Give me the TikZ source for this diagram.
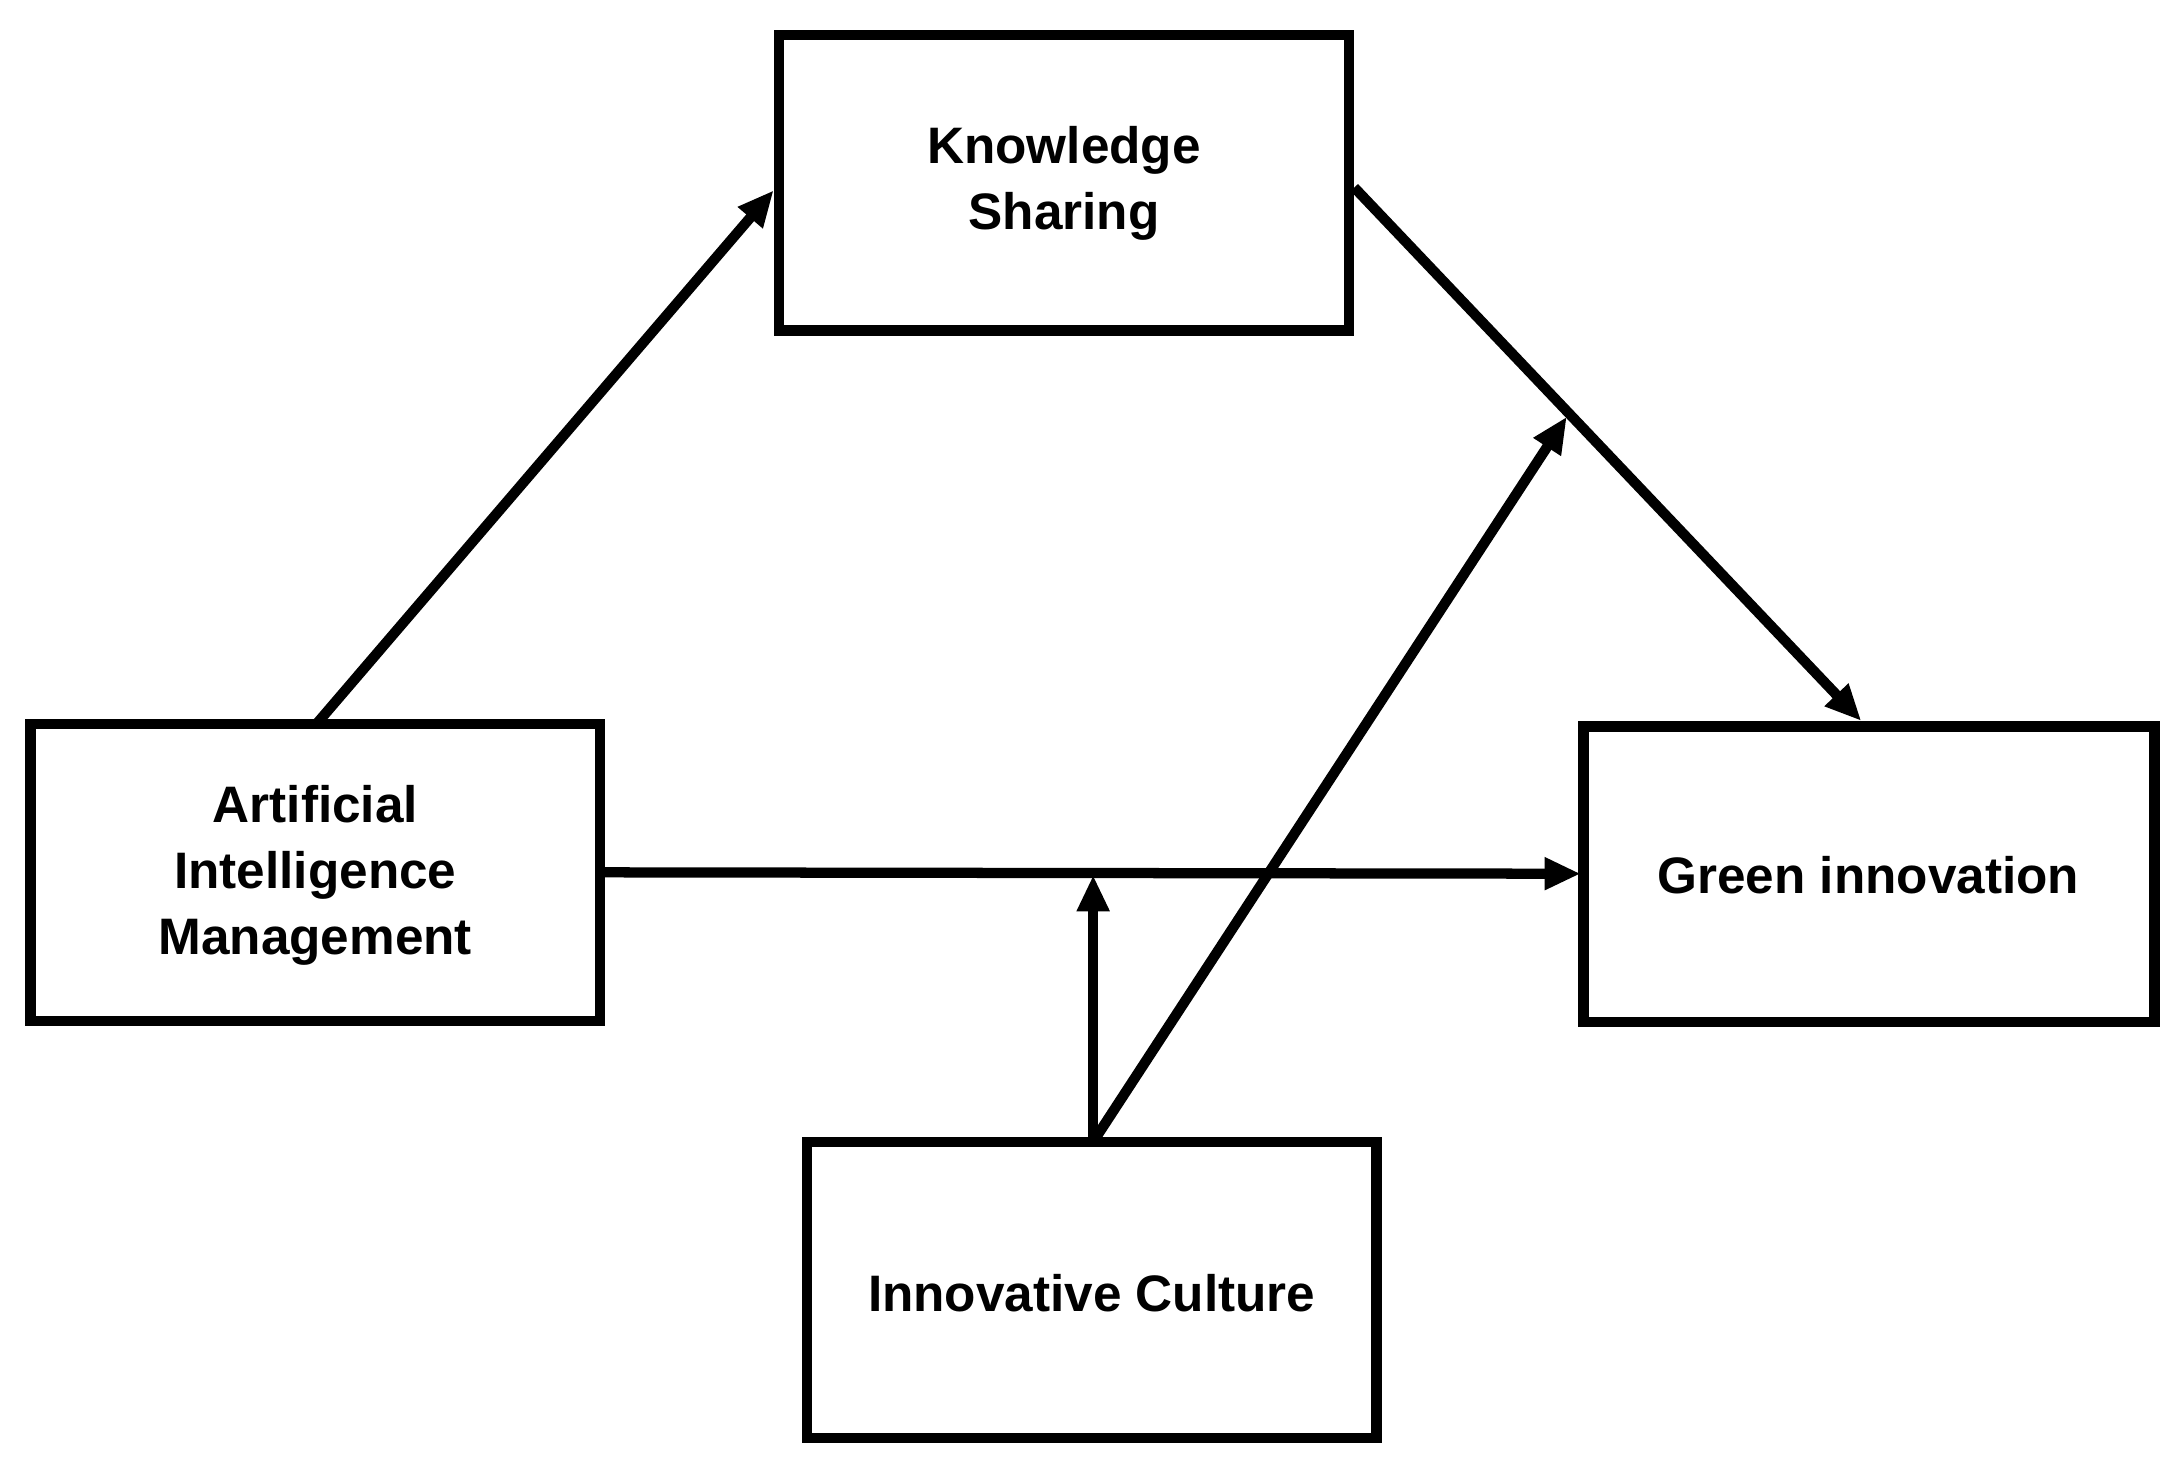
\documentclass[tikz,border=0pt]{standalone}
\usepackage{fontspec}
\setmainfont{Liberation Sans}
\usetikzlibrary{arrows.meta}
\begin{document}
\begin{tikzpicture}[x=0.01cm,y=-0.01cm,
  box/.style={draw,line width=2.1pt,inner sep=0pt},
  lbl/.style={font=\fontsize{10.5}{13.5}\selectfont\bfseries,align=center},
  conn/.style={line width=2.1pt,-{Triangle[length=0.26cm,width=0.22cm]}}]
\useasboundingbox (0,0) rectangle (1568,1056);
\draw[box] (561,25) rectangle (971,238);
\draw[box] (22,521) rectangle (432,735);
\draw[box] (1140,523) rectangle (1551,736);
\draw[box] (581,822) rectangle (991,1035);
\node[lbl] (ks) at (766,132) {Knowledge\\Sharing};
\node[lbl] (aim) at (227,630) {Artificial\\Intelligence\\Management};
\node[lbl] (gi) at (1345,630) {Green innovation};
\node[lbl] (ic) at (786,931) {Innovative Culture};
\coordinate (aimT) at (228,521);
\coordinate (ksL) at (557,137);
\coordinate (ksR) at (975,135);
\coordinate (giT) at (1340,519);
\coordinate (aimR) at (432,628);
\coordinate (giL) at (1138,629);
\coordinate (icT) at (787,822);
\coordinate (mid) at (787,630);
\coordinate (mod) at (1128,300);
\draw[conn] (aimT) -- (ksL);
\draw[conn] (ksR) -- (giT);
\draw[conn] (aimR) -- (giL);
\draw[conn] (icT) -- (mid);
\draw[conn] (icT) -- (mod);
\end{tikzpicture}
\end{document}
